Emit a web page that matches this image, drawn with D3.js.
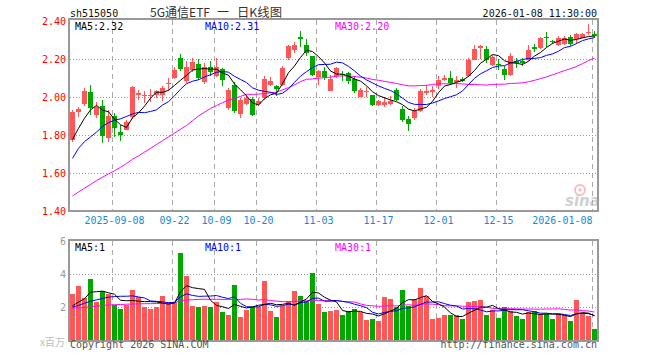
<!DOCTYPE html>
<html>
<head>
<meta charset="utf-8">
<script src="https://cdn.jsdelivr.net/npm/d3@7"></script>
<style>
body { margin: 0; background: #fff; }
</style>
</head>
<body>
<script>
// trading days shown (2025-08-28 .. 2026-01-08)
var days = [
  '2025-08-28','2025-08-29',
  '2025-09-01','2025-09-02','2025-09-03','2025-09-04','2025-09-05',
  '2025-09-08','2025-09-09','2025-09-10','2025-09-11','2025-09-12',
  '2025-09-15','2025-09-16','2025-09-17','2025-09-18','2025-09-19',
  '2025-09-22','2025-09-23','2025-09-24','2025-09-25','2025-09-26',
  '2025-09-29','2025-09-30',
  '2025-10-09','2025-10-10',
  '2025-10-13','2025-10-14','2025-10-15','2025-10-16','2025-10-17',
  '2025-10-20','2025-10-21','2025-10-22','2025-10-23','2025-10-24',
  '2025-10-27','2025-10-28','2025-10-29','2025-10-30','2025-10-31',
  '2025-11-03','2025-11-04','2025-11-05','2025-11-06','2025-11-07',
  '2025-11-10','2025-11-11','2025-11-12','2025-11-13','2025-11-14',
  '2025-11-17','2025-11-18','2025-11-19','2025-11-20','2025-11-21',
  '2025-11-24','2025-11-25','2025-11-26','2025-11-27','2025-11-28',
  '2025-12-01','2025-12-02','2025-12-03','2025-12-04','2025-12-05',
  '2025-12-08','2025-12-09','2025-12-10','2025-12-11','2025-12-12',
  '2025-12-15','2025-12-16','2025-12-17','2025-12-18','2025-12-19',
  '2025-12-22','2025-12-23','2025-12-24','2025-12-25','2025-12-26',
  '2025-12-29','2025-12-30','2025-12-31',
  '2026-01-05','2026-01-06','2026-01-07','2026-01-08'
]

var open = [1.776,1.921,1.963,2.028,1.904,1.954,1.782,1.902,1.814,1.828,
  1.895,2.01,2.008,2.005,2.01,2.012,2.068,2.098,2.207,2.082,
  2.144,2.175,2.077,2.158,2.112,2.147,1.942,2.065,1.912,1.965,
  1.991,1.965,1.995,2.065,2.06,2.065,2.205,2.249,2.314,2.275,
  2.218,2.104,2.135,2.03,2.109,2.121,2.126,2.097,1.998,2.025,
  2.009,1.956,1.96,1.965,2.039,1.939,1.886,1.89,1.925,2.021,
  2.026,2.056,2.088,2.1,2.077,2.093,2.112,2.193,2.26,2.253,
  2.17,2.172,2.149,2.118,2.188,2.188,2.195,2.262,2.257,2.318,
  2.295,2.274,2.278,2.318,2.306,2.313,2.336,2.33]
var high = [1.93,1.946,2.05,2.065,1.972,1.986,1.933,1.916,1.854,1.88,
  2.06,2.037,2.03,2.04,2.035,2.06,2.10,2.16,2.228,2.188,
  2.205,2.20,2.18,2.188,2.205,2.153,2.047,2.077,1.995,2.01,
  2.0,1.995,2.109,2.105,2.065,2.162,2.275,2.29,2.349,2.307,
  2.218,2.14,2.16,2.118,2.156,2.139,2.132,2.109,2.048,2.051,
  2.009,1.986,2.0,2.007,2.048,1.951,1.902,1.942,2.042,2.065,
  2.058,2.109,2.118,2.139,2.112,2.105,2.205,2.275,2.275,2.266,
  2.223,2.2,2.161,2.23,2.205,2.205,2.275,2.278,2.318,2.344,
  2.30,2.323,2.323,2.327,2.335,2.335,2.383,2.348]
var low = [1.763,1.897,1.955,1.907,1.89,1.758,1.761,1.79,1.767,1.825,
  1.884,1.985,1.968,1.975,1.995,1.977,2.03,2.095,2.135,2.074,
  2.13,2.091,2.07,2.109,2.105,2.06,1.933,1.916,1.89,1.96,
  1.9,1.951,1.986,2.056,2.003,2.056,2.197,2.232,2.261,2.214,
  2.109,2.065,2.091,2.03,2.1,2.082,2.07,2.021,1.998,1.998,
  1.951,1.951,1.946,1.956,1.98,1.867,1.82,1.881,1.919,2.012,
  2.0,2.04,2.084,2.065,2.05,2.077,2.105,2.193,2.2,2.179,
  2.161,2.144,2.091,2.112,2.153,2.161,2.19,2.235,2.253,2.264,
  2.278,2.269,2.274,2.267,2.278,2.31,2.325,2.309]
var close = [1.919,1.939,2.033,1.942,1.946,1.793,1.898,1.835,1.80,1.87,
  2.053,2.023,2.012,2.01,2.03,2.047,2.075,2.142,2.147,2.158,
  2.186,2.10,2.158,2.13,2.158,2.088,2.039,1.925,1.982,1.995,
  1.907,1.978,2.095,2.082,2.042,2.153,2.267,2.272,2.307,2.232,
  2.118,2.135,2.104,2.095,2.153,2.114,2.082,2.03,2.039,2.03,
  1.96,1.977,1.974,1.98,1.986,1.881,1.86,1.925,2.033,2.03,
  2.037,2.088,2.1,2.074,2.088,2.086,2.196,2.253,2.266,2.193,
  2.21,2.167,2.118,2.214,2.179,2.179,2.25,2.255,2.309,2.309,
  2.288,2.309,2.309,2.278,2.33,2.33,2.344,2.323]
// volume, millions of shares
var volume = [2.80,3.28,2.56,3.70,2.29,2.98,2.78,2.11,1.89,2.13,
  3.04,2.60,1.97,1.89,2.03,2.68,2.29,2.33,5.27,3.88,
  2.09,2.01,2.09,1.97,2.33,1.67,1.49,3.34,1.37,1.83,
  1.97,2.03,3.58,1.73,1.37,2.09,2.37,2.98,2.64,2.37,
  4.08,2.19,1.67,1.77,1.83,1.49,1.77,1.89,1.69,1.23,
  1.29,1.17,2.58,2.49,2.03,3.04,2.09,2.49,3.18,2.64,
  1.29,1.33,1.49,1.49,1.53,1.29,2.33,2.37,2.43,1.53,
  1.83,1.33,2.03,1.77,1.43,1.29,1.69,1.77,1.57,1.57,
  1.29,1.57,1.49,1.17,2.43,1.63,1.43,0.68]

// MA values before enough days are on screen
var ma5Head = [1.777,1.835,1.888,1.932]
var ma10Head = [1.677,1.73,1.765,1.79,1.815,1.845,1.865,1.878,1.885]
var ma30Head = [1.479,1.50,1.52,1.54,1.56,1.578,1.595,1.612,1.63,1.65,
  1.672,1.69,1.71,1.73,1.75,1.77,1.79,1.81,1.83,1.85,
  1.875,1.90,1.92,1.94,1.955,1.97,1.983,1.993,2.003]
var vma5Head = [2.07,2.3,2.5,2.9]
var vma10Head = [1.99,2.1,2.23,2.35,2.43,2.52,2.6,2.63,2.65]
var vma30Head = [1.93,1.95,1.97,2.0,2.05,2.1,2.12,2.14,2.15,2.17,
  2.18,2.19,2.2,2.2,2.21,2.22,2.23,2.25,2.4,2.42,
  2.44,2.46,2.47,2.47,2.47,2.46,2.46,2.46,2.46]

var tickDays = ['2025-09-08','2025-09-22','2025-10-09','2025-10-20','2025-11-03',
  '2025-11-17','2025-12-01','2025-12-15','2026-01-08']
var tickLabels = ['2025-09-08','09-22','10-09','10-20','11-03','11-17','12-01','12-15','2026-01-08']
var priceTicks = [1.4, 1.6, 1.8, 2.0, 2.2, 2.4]
var volTicks = [2, 4, 6]

var width = 660, height = 360
var L = 70, R = 598
var upColor = '#ff5757', downColor = '#00a800'
var mono = '"DejaVu Sans Mono", "Liberation Mono", monospace'
var cjk = '"Noto Sans CJK SC", sans-serif'

function movingAvg(vals, n, head){
    return vals.map((v, i) => i < n - 1 ? head[i] : d3.mean(vals.slice(i - n + 1, i + 1)))
}

var rows = days.map((d, i) => ({day: d, o: open[i], h: high[i], l: low[i], c: close[i], v: volume[i]}))
var ma5 = movingAvg(close, 5, ma5Head)
var ma10 = movingAvg(close, 10, ma10Head)
var ma30 = movingAvg(close, 30, ma30Head)
var vma5 = movingAvg(volume, 5, vma5Head)
var vma10 = movingAvg(volume, 10, vma10Head)
var vma30 = movingAvg(volume, 30, vma30Head)

var svg = d3.select('body').append('svg')
    .attr('width', width)
    .attr('height', height)
    .style('font-family', mono)
    .style('font-size', '10px')

var x = d3.scaleBand().domain(days).range([L - 0.5, R - 0.5]).paddingInner(1/6).paddingOuter(1/12)
var bw = x.bandwidth()
var cx = d => x(d) + bw / 2
var y = d3.scaleLinear().domain([1.4, 2.4]).range([211, 21])
var yv = d3.scaleLinear().domain([0, 6]).range([340, 241])

// grid
var grid = svg.append('g').attr('shape-rendering', 'crispEdges')
grid.selectAll('.vg').data(tickDays).enter().append('line')
    .attr('x1', d => x(d) + 0.5).attr('x2', d => x(d) + 0.5)
    .attr('y1', 20).attr('y2', 210)
    .attr('stroke', '#aaa').attr('stroke-dasharray', '5,4')
grid.selectAll('.vg2').data(tickDays).enter().append('line')
    .attr('x1', d => x(d) + 0.5).attr('x2', d => x(d) + 0.5)
    .attr('y1', 241).attr('y2', 340)
    .attr('stroke', '#aaa').attr('stroke-dasharray', '5,4')
grid.selectAll('.hg').data(priceTicks.slice(1, -1)).enter().append('line')
    .attr('x1', L).attr('x2', R - 1)
    .attr('y1', d => Math.round(y(d)) + 0.5).attr('y2', d => Math.round(y(d)) + 0.5)
    .attr('stroke', '#999').attr('stroke-dasharray', '1,2')
grid.selectAll('.hg2').data(volTicks.slice(0, -1)).enter().append('line')
    .attr('x1', L).attr('x2', R - 1)
    .attr('y1', d => Math.round(yv(d)) + 0.5).attr('y2', d => Math.round(yv(d)) + 0.5)
    .attr('stroke', '#999').attr('stroke-dasharray', '1,2')

// watermark
var wm = svg.append('g').attr('opacity', 0.55)
wm.append('circle').attr('cx', 580).attr('cy', 190).attr('r', 5)
    .attr('fill', 'none').attr('stroke', '#f08a8a').attr('stroke-width', 2)
wm.append('circle').attr('cx', 580).attr('cy', 190).attr('r', 1.8).attr('fill', '#f08a8a')
wm.append('text').attr('x', 565).attr('y', 206)
    .style('font-family', '"DejaVu Sans", sans-serif').style('font-size', '15px')
    .style('font-style', 'italic').style('font-weight', 'bold')
    .attr('fill', '#aaa').text('sina')

// candles
var candles = svg.append('g').attr('shape-rendering', 'crispEdges')
candles.selectAll('line').data(rows).enter().append('line')
    .attr('x1', d => cx(d.day)).attr('x2', d => cx(d.day))
    .attr('y1', d => y(d.h)).attr('y2', d => y(d.l))
    .attr('stroke', d => d.c >= d.o ? upColor : downColor)
candles.selectAll('rect').data(rows).enter().append('rect')
    .attr('x', d => x(d.day)).attr('width', bw)
    .attr('y', d => y(Math.max(d.o, d.c)))
    .attr('height', d => Math.max(1, Math.abs(y(d.o) - y(d.c))))
    .attr('fill', d => d.c >= d.o ? upColor : downColor)

// volume bars
svg.append('g').attr('shape-rendering', 'crispEdges')
    .selectAll('rect').data(rows).enter().append('rect')
    .attr('x', d => x(d.day)).attr('width', bw)
    .attr('y', d => yv(d.v)).attr('height', d => yv(0) - yv(d.v))
    .attr('fill', d => d.c >= d.o ? upColor : downColor)

// moving average lines
var maColors = ['#000', '#0000ff', '#ff00ff']
var priceLine = d3.line().x((d, i) => cx(days[i])).y(d => y(d))
var volLine = d3.line().x((d, i) => cx(days[i])).y(d => yv(d))
;[ma30, ma10, ma5].forEach((m, k) => {
    svg.append('path').attr('d', priceLine(m)).attr('fill', 'none')
        .attr('stroke', maColors[2 - k]).attr('stroke-width', 1)
})
;[vma30, vma10, vma5].forEach((m, k) => {
    svg.append('path').attr('d', volLine(m)).attr('fill', 'none')
        .attr('stroke', maColors[2 - k]).attr('stroke-width', 1)
})

// frames
svg.append('rect').attr('x', 69).attr('y', 19).attr('width', 529).attr('height', 192)
    .attr('fill', 'none').attr('stroke', '#999').attr('stroke-width', 2)
    .attr('shape-rendering', 'crispEdges')
svg.append('rect').attr('x', 69).attr('y', 240).attr('width', 529).attr('height', 101)
    .attr('fill', 'none').attr('stroke', '#999').attr('stroke-width', 2)
    .attr('shape-rendering', 'crispEdges')

// axes
var yAxis = svg.append('g').attr('transform', 'translate(' + L + ',0)')
    .call(d3.axisLeft(y).tickValues(priceTicks).tickFormat(d3.format('.2f')).tickSize(0).tickPadding(4))
yAxis.select('.domain').remove()
yAxis.selectAll('text').attr('fill', '#f00').style('font-family', mono).style('font-size', '10px')

var vAxis = svg.append('g').attr('transform', 'translate(' + L + ',0)')
    .call(d3.axisLeft(yv).tickValues(volTicks).tickFormat(d3.format('d')).tickSize(0).tickPadding(4))
vAxis.select('.domain').remove()
vAxis.selectAll('text').attr('fill', '#999').style('font-family', mono).style('font-size', '10px')

var xAxis = svg.append('g').attr('transform', 'translate(0,211)')
    .call(d3.axisBottom(x).tickValues(tickDays).tickFormat((d, i) => tickLabels[i]).tickSize(0).tickPadding(6))
xAxis.select('.domain').remove()
xAxis.selectAll('text').attr('fill', '#168ad6').style('font-family', mono).style('font-size', '10px')
xAxis.selectAll('.tick').filter((d, i) => i === tickDays.length - 1).select('text')
    .attr('text-anchor', 'end').attr('x', -2)

// header texts
svg.append('text').attr('x', 70).attr('y', 17).attr('fill', '#111').text('sh515050')
var title = svg.append('g').style('font-family', cjk).style('font-size', '12px').attr('fill', '#333')
title.append('text').attr('x', 150).attr('y', 17)
    .attr('textLength', 60).attr('lengthAdjust', 'spacingAndGlyphs').text('5G通信ETF')
title.append('text').attr('x', 217).attr('y', 17).text('一')
title.append('text').attr('x', 237).attr('y', 17)
    .attr('textLength', 45).attr('lengthAdjust', 'spacingAndGlyphs').text('日K线图')
svg.append('text').attr('x', 597).attr('y', 17).attr('text-anchor', 'end')
    .attr('fill', '#111').text('2026-01-08 11:30:00')

// legends
var fmt2 = d3.format('.2f')
var legendX = [75, 205, 335]
var names = ['MA5', 'MA10', 'MA30']
;[ma5, ma10, ma30].forEach((m, k) => {
    svg.append('text').attr('x', legendX[k]).attr('y', 29.5).attr('fill', maColors[k])
        .text(names[k] + ':' + fmt2(m[m.length - 1]))
})
;[vma5, vma10, vma30].forEach((m, k) => {
    svg.append('text').attr('x', legendX[k]).attr('y', 251).attr('fill', maColors[k])
        .text(names[k] + ':' + Math.floor(m[m.length - 1]))
})

// footer
svg.append('text').attr('x', 65).attr('y', 346).attr('text-anchor', 'end')
    .style('font-family', cjk).style('font-size', '10px')
    .attr('fill', '#bbb').text('x百万')
svg.append('text').attr('x', 70).attr('y', 348).attr('fill', '#555').text('Copyright 2026 SINA.COM')
svg.append('text').attr('x', 597).attr('y', 348).attr('text-anchor', 'end')
    .attr('fill', '#555').text('http://finance.sina.com.cn')
</script>
</body>
</html>
